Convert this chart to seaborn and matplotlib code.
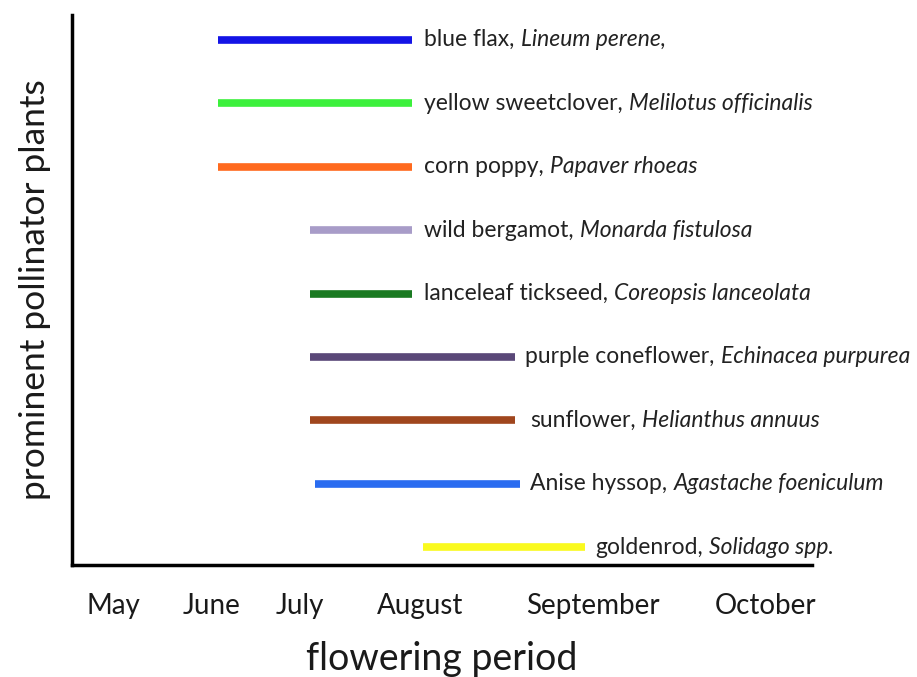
import numpy as np
import pandas as pd
import seaborn as sns
from matplotlib import pyplot as plt

# plants from top to bottom
common = ['blue flax', 'yellow sweetclover', 'corn poppy', 'wild bergamot',
          'lanceleaf tickseed', 'purple coneflower', 'sunflower',
          'Anise hyssop', 'goldenrod']
latin = ['Lineum perene,', 'Melilotus officinalis', 'Papaver rhoeas',
         'Monarda fistulosa', 'Coreopsis lanceolata', 'Echinacea purpurea',
         'Helianthus annuus', 'Agastache foeniculum', 'Solidago spp.']
# flowering period, in month units along the axis
start = [1.46, 1.46, 1.46, 2.38, 2.38, 2.38, 2.38, 2.43, 3.51]
end = [3.40, 3.40, 3.40, 3.40, 3.40, 4.43, 4.43, 4.48, 5.13]
colors = ['#1414e6', '#3cf03c', '#ff6a1e', '#a89cc8', '#1a7a22',
          '#5a4878', '#a0461e', '#2a6cf0', '#fafa1e']

months = ['May', 'June', 'July', 'August', 'September', 'October']
month_pos = [0.41, 1.40, 2.28, 3.48, 5.21, 6.94]

sns.set_style('white')
plt.rcParams['font.family'] = ['Lato', 'DejaVu Sans']

rows = list(range(len(common)))
df = pd.DataFrame({
    'plant': common * 2,
    'row': rows * 2,
    'x': start + end,
})

fig = plt.figure(figsize=(9.17, 6.77), dpi=100)
ax = fig.add_axes([0.0785, 0.1654, 0.807, 0.8124])

sns.lineplot(data=df, x='x', y='row', hue='plant', palette=colors,
             estimator=None, sort=False, lw=5.5, legend=False, ax=ax)
for l in ax.lines:
    l.set_solid_capstyle('butt')

ax.set_xlim(0, 7.4)
ax.set_ylim(8.28, -0.39)

# labels: common name normal, latin name italic
gaps = [0.12, 0.12, 0.12, 0.12, 0.12, 0.10, 0.15, 0.10, 0.10]
for i in rows:
    t = ax.text(end[i] + gaps[i], i, common[i] + ',', fontsize=16.5,
                va='center', color='#222222')
    ax.annotate(latin[i], xy=(1, 0), xycoords=t, xytext=(4.5, 0),
                textcoords='offset points', va='bottom', ha='left',
                fontsize=16.5, style='italic', color='#222222')

ax.set_xticks(month_pos)
ax.set_xticklabels(months, fontsize=20, color='#1a1a1a')
ax.tick_params(axis='x', length=0, pad=20)
ax.set_yticks([])
ax.set_xlabel('flowering period', fontsize=27, labelpad=16, color='#1a1a1a')
ax.set_ylabel('prominent pollinator plants', fontsize=25.5, labelpad=15,
              color='#1a1a1a')

sns.despine(ax=ax)
for s in ['left', 'bottom']:
    ax.spines[s].set_linewidth(2.5)
    ax.spines[s].set_color('black')

fig.savefig('out.png', dpi=100)
